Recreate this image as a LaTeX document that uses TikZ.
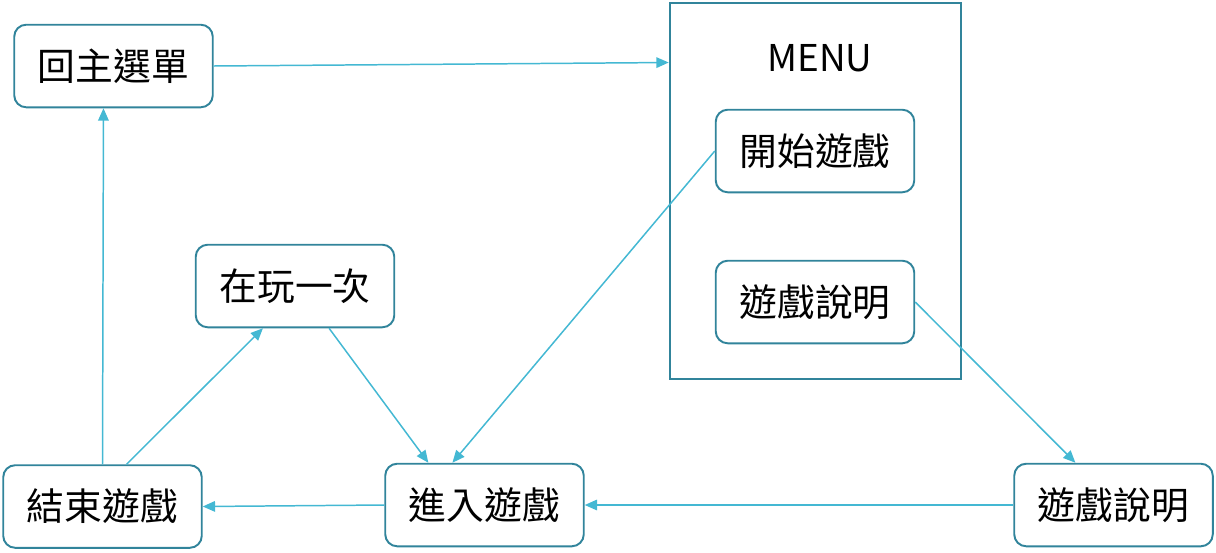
\documentclass[tikz,border=0pt]{standalone}
\usepackage{fontspec}
\setmainfont{Noto Sans CJK TC}
\usetikzlibrary{calc,arrows.meta}
\definecolor{boxline}{RGB}{49,132,155}
\definecolor{flow}{RGB}{68,184,211}
\begin{document}
\begin{tikzpicture}[x=0.02cm,y=-0.02cm,
  stepbox/.style={draw=boxline,line width=1.1pt,rounded corners=6.8pt,fill=white,
    minimum width=113pt,minimum height=47pt,inner sep=0pt,font=\fontsize{21.5}{25}\selectfont},
  frame/.style={draw=boxline,line width=1.1pt},
  link/.style={draw=flow,line width=0.85pt,-{Triangle[length=7pt,width=6pt]}}]
\useasboundingbox (0,0) rectangle (1216,552);
% menu frame and its title
\node[frame,minimum width=166pt,minimum height=214pt,inner sep=0pt] (menu) at (815.5,191) {};
\node[font=\fontsize{21}{25}\selectfont] (title) at (820,58) {MENU};
% boxes
\node[stepbox] (home) at (113.5,66) {回主選單};
\node[stepbox] (start) at (815,151) {開始遊戲};
\node[stepbox] (helpin) at (815,302) {遊戲說明};
\node[stepbox] (again) at (295,286) {在玩一次};
\node[stepbox] (over) at (102.5,506.5) {結束遊戲};
\node[stepbox] (play) at (484.5,505) {進入遊戲};
\node[stepbox] (help) at (1113.5,505) {遊戲說明};
% connectors
\draw[link] (home.east) -- ($(menu.north west)!0.16!(menu.south west)$);
\draw[link] (start.west) -- ($(play.north west)!0.34!(play.north east)$);
\draw[link] (helpin.east) -- ($(help.north west)!0.31!(help.north east)$);
\draw[link] (help.west) -- (play.east);
\draw[link] (play.west) -- (over.east);
\draw[link] (over.north) -- ($(home.south west)!0.45!(home.south east)$);
\draw[link] ($(over.north west)!0.62!(over.north east)$) -- ($(again.south west)!0.34!(again.south east)$);
\draw[link] ($(again.south west)!0.67!(again.south east)$) -- ($(play.north west)!0.22!(play.north east)$);
\end{tikzpicture}
\end{document}
